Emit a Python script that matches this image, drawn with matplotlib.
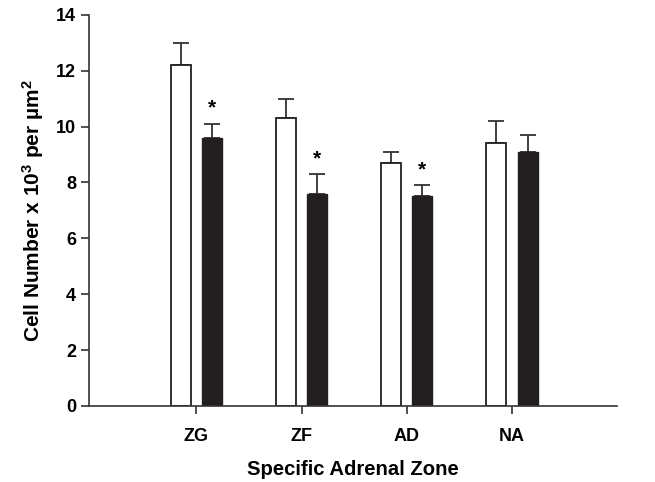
import numpy as np
import matplotlib
matplotlib.use("Agg")
import matplotlib.pyplot as plt

plt.rcParams['font.family'] = ['Liberation Sans', 'DejaVu Sans']
plt.rcParams['font.weight'] = 'bold'
plt.rcParams['mathtext.fontset'] = 'custom'
plt.rcParams['mathtext.rm'] = 'Liberation Sans:bold'
plt.rcParams['mathtext.bf'] = 'Liberation Sans:bold'
plt.rcParams['mathtext.default'] = 'bf'

# data
zones = ['ZG', 'ZF', 'AD', 'NA']
control = [12.2, 10.3, 8.7, 9.4]
control_err = [0.8, 0.7, 0.4, 0.8]
treated = [9.6, 7.6, 7.5, 9.1]
treated_err = [0.5, 0.7, 0.4, 0.6]
significant = [True, True, True, False]

bar_col = '#231f20'
x = np.arange(len(zones))
w = 0.19
off = 0.15

fig = plt.figure(figsize=(6.55, 4.82), dpi=100)
ax = fig.add_axes([0.136, 0.158, 0.806, 0.811])

ax.bar(x - off, control, w, color='white', edgecolor=bar_col, linewidth=1.3, zorder=2)
ax.bar(x + off, treated, w, color=bar_col, edgecolor=bar_col, linewidth=1.0, zorder=2)
ax.errorbar(x - off, control, yerr=[np.zeros(4), control_err], fmt='none',
            ecolor='#333333', elinewidth=1.3, capsize=6, capthick=1.3, zorder=1)
ax.errorbar(x + off, treated, yerr=[np.zeros(4), treated_err], fmt='none',
            ecolor='#333333', elinewidth=1.3, capsize=6, capthick=1.3, zorder=1)

for i, s in enumerate(significant):
    if s:
        ax.text(x[i] + off, treated[i] + treated_err[i] + 0.22, '*',
                ha='center', va='bottom', fontsize=15, fontweight='bold')

ax.set_xlim(-1.02, 4.0)
ax.set_ylim(0, 14)
ax.set_yticks(np.arange(0, 15, 2))
ax.set_xticks(x)
ax.set_xticklabels(zones)
ax.tick_params(axis='both', labelsize=13, length=6, width=1.2, color='#333333')
ax.tick_params(axis='x', pad=10)

for sp in ['top', 'right']:
    ax.spines[sp].set_visible(False)
for sp in ['left', 'bottom']:
    ax.spines[sp].set_linewidth(1.2)
    ax.spines[sp].set_color('#333333')

ax.set_xlabel('Specific Adrenal Zone', fontsize=14.6, fontweight='bold', labelpad=11)
ax.set_ylabel(r'Cell Number x 10$^3$ per µm$^2$', fontsize=15, fontweight='bold', labelpad=7)

fig.savefig('out.png', dpi=100)
